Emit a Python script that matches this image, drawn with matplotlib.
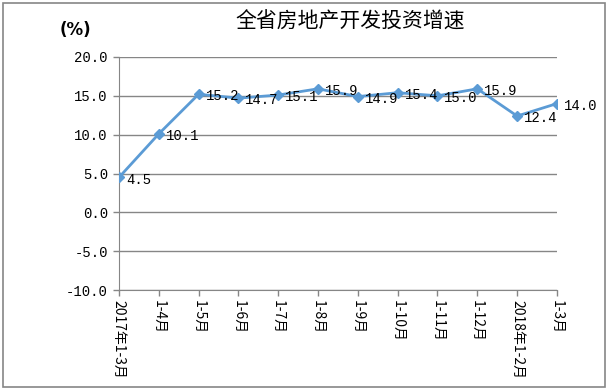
import matplotlib
matplotlib.use("Agg")
import matplotlib.pyplot as plt
from matplotlib.patches import Rectangle

plt.rcParams["font.family"] = ["Noto Sans CJK SC", "DejaVu Sans"]
plt.rcParams["axes.unicode_minus"] = False

periods = ["2017年1-3月", "1-4月", "1-5月", "1-6月", "1-7月", "1-8月",
           "1-9月", "1-10月", "1-11月", "1-12月", "2018年1-2月", "1-3月"]
growth = [4.5, 10.1, 15.2, 14.7, 15.1, 15.9, 14.9, 15.4, 15.0, 15.9, 12.4, 14.0]
y_ticks = [-10, -5, 0, 5, 10, 15, 20]

C_LINE = "#5B9BD5"
C_GRID = "#868686"
NUM_FONT = "Liberation Mono"

fig = plt.figure(figsize=(6.1, 3.9), dpi=100)
ax = fig.add_axes([0.195, 0.256, 0.718, 0.598])

x = list(range(len(periods)))
ax.plot(x, growth, color=C_LINE, lw=2, marker="D", markersize=5,
        markerfacecolor=C_LINE, markeredgecolor=C_LINE, zorder=3)
for xi, v in zip(x, growth):
    ax.annotate(f"{v:.1f}", (xi, v), xytext=(5, -1.5), textcoords="offset points",
                ha="left", va="center", fontsize=10, family=NUM_FONT)

ax.set_xlim(0, len(periods) - 1)
ax.set_ylim(-10, 20)
ax.set_yticks(y_ticks)
ax.set_yticklabels([f"{v:.1f}" for v in y_ticks], family=NUM_FONT, fontsize=10)
ax.set_xticks(x)
ax.set_xticklabels(periods, rotation=-90, fontsize=10, va="top", ha="center")
ax.yaxis.grid(True, color=C_GRID, lw=1)
ax.set_axisbelow(True)

for side in ["top", "right"]:
    ax.spines[side].set_visible(False)
for side in ["left", "bottom"]:
    ax.spines[side].set_color(C_GRID)
ax.tick_params(axis="both", color=C_GRID, length=4, width=1)
ax.tick_params(axis="y", pad=4)
ax.tick_params(axis="x", pad=3)

fig.text(0.574, 0.944, "全省房地产开发投资增速", ha="center", va="center",
         fontsize=15, fontweight="medium")
fig.text(0.123, 0.923, "(%)", ha="center", va="center", fontsize=12,
         fontweight="bold", family="DejaVu Sans")

fig.patches.append(Rectangle((0.005, 0.008), 0.987, 0.984, transform=fig.transFigure,
                             fill=False, edgecolor=C_GRID, lw=1.2))

plt.savefig("out.png", dpi=100)
plt.close()
